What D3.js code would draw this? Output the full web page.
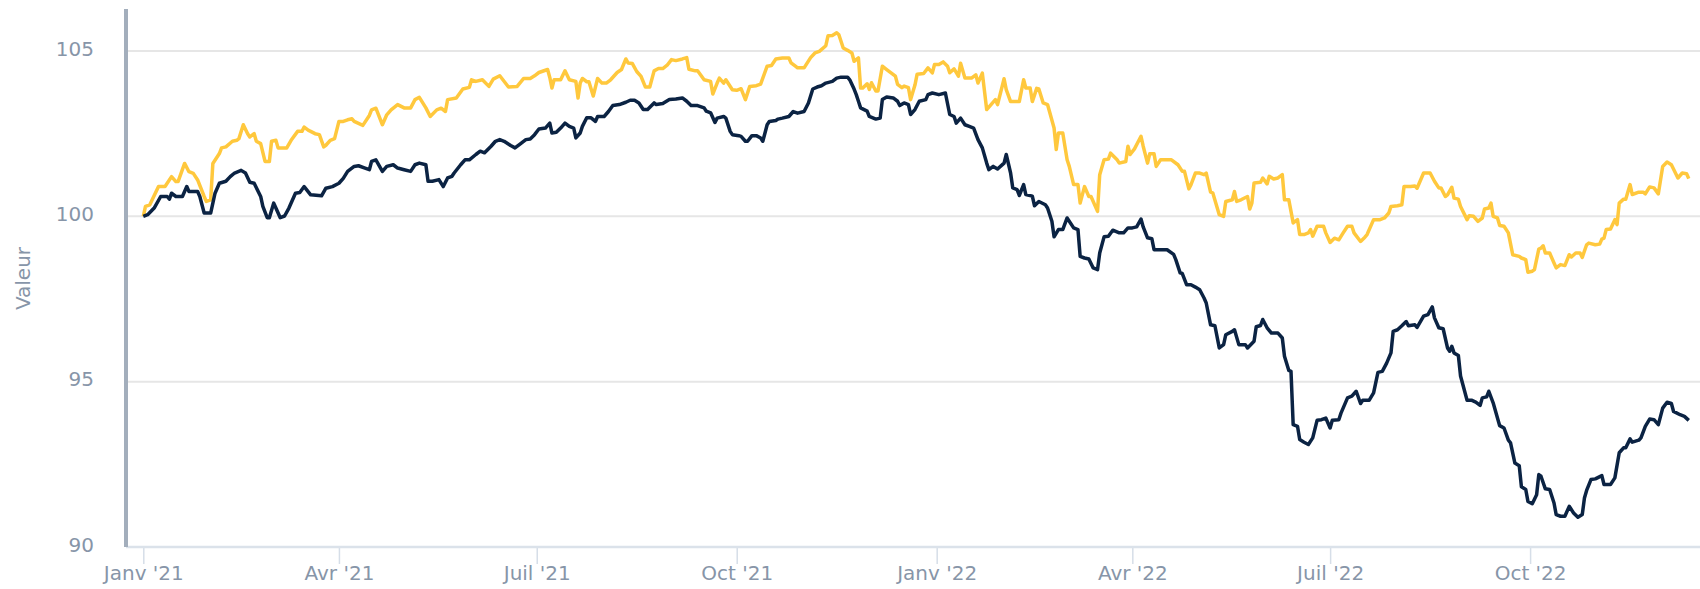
<!DOCTYPE html>
<html>
<head>
  <meta charset="utf-8">
  <script src="https://cdn.jsdelivr.net/npm/d3@7"></script>
  <style>
    body { margin: 0; background: #fff; }
    svg { display: block; font-family: "DejaVu Sans", sans-serif; }
  </style>
</head>
<body>
<script>
  // jours depuis le 1er janvier 2021, valeur
  const orSerie = [[0,100.0],[1,100.3],[3,100.35],[7,100.9],[10,100.9],[13,101.2],[15,101.05],[16,101.05],[19,101.6],[21,101.35],[23,101.3],[25,101.1],[28,100.6],[29,100.45],[31,100.5],[32,101.6],[35,101.9],[36,102.07],[38,102.1],[41,102.27],[43,102.3],[44,102.35],[46,102.77],[48,102.5],[49,102.4],[51,102.5],[52,102.27],[54,102.2],[56,101.66],[58,101.66],[59,102.27],[61,102.3],[62,102.07],[66,102.07],[68,102.3],[71,102.57],[73,102.57],[74,102.7],[76,102.6],[77,102.57],[79,102.5],[81,102.47],[83,102.1],[84,102.15],[86,102.3],[88,102.35],[90,102.87],[92,102.87],[94,102.92],[96,102.95],[97,102.87],[101,102.75],[104,103.05],[105,103.22],[107,103.27],[110,102.77],[112,103.07],[114,103.22],[117,103.38],[120,103.28],[123,103.28],[125,103.53],[127,103.6],[130,103.28],[132,103.02],[135,103.22],[137,103.27],[139,103.17],[140,103.53],[144,103.58],[147,103.85],[150,103.9],[151,104.13],[153,104.08],[156,104.13],[159,103.93],[161,104.15],[164,104.25],[168,103.91],[172,103.93],[175,104.17],[178,104.17],[180,104.25],[182,104.35],[186,104.44],[187,104.2],[188,103.88],[189,104.13],[192,104.13],[194,104.4],[196,104.13],[199,104.08],[200,103.58],[201,104.03],[202,104.17],[204,104.07],[205,104.07],[207,103.64],[209,104.17],[211,104.03],[213,104.03],[215,104.13],[218,104.35],[220,104.44],[222,104.76],[223,104.64],[225,104.62],[227,104.38],[229,104.23],[231,103.91],[233,103.91],[235,104.4],[237,104.47],[239,104.47],[241,104.57],[243,104.74],[245,104.71],[248,104.76],[250,104.8],[251,104.45],[254,104.4],[255,104.4],[258,104.13],[261,104.08],[262,103.7],[264,104.03],[265,104.18],[267,104.03],[268,104.13],[271,103.83],[273,103.81],[275,103.86],[277,103.53],[279,103.93],[282,103.95],[284,104.0],[287,104.54],[289,104.56],[291,104.76],[294,104.79],[297,104.79],[298,104.64],[300,104.54],[301,104.49],[304,104.49],[307,104.8],[309,104.94],[311,104.99],[314,105.16],[315,105.46],[317,105.47],[319,105.55],[320,105.49],[322,105.09],[324,105.02],[326,104.94],[327,104.69],[329,104.79],[330,103.88],[331,103.88],[333,104.01],[334,103.84],[335,104.04],[337,103.79],[338,103.79],[340,104.54],[342,104.44],[344,104.34],[346,104.24],[347,103.99],[349,103.89],[350,103.94],[352,103.89],[353,103.53],[355,103.97],[356,104.3],[359,104.32],[361,104.49],[363,104.34],[364,104.59],[366,104.59],[368,104.67],[370,104.54],[371,104.34],[373,104.46],[375,104.24],[376,104.63],[378,104.18],[381,104.18],[383,104.28],[384,104.03],[386,104.33],[388,103.23],[390,103.38],[392,103.53],[393,103.38],[396,104.16],[397,103.83],[399,103.47],[403,103.47],[405,104.13],[406,103.88],[408,103.88],[409,103.47],[411,103.87],[412,103.85],[414,103.43],[416,103.38],[419,102.67],[420,102.02],[421,102.52],[423,102.52],[425,101.71],[426,101.51],[428,100.96],[430,100.96],[431,100.4],[433,100.9],[435,100.6],[436,100.6],[439,100.15],[440,101.26],[442,101.71],[444,101.73],[445,101.91],[448,101.71],[449,101.61],[452,101.66],[453,102.12],[454,101.87],[456,102.04],[459,102.42],[460,102.12],[462,101.61],[463,101.89],[465,101.89],[466,101.51],[468,101.71],[473,101.71],[476,101.56],[478,101.36],[479,101.36],[481,100.83],[482,100.96],[484,101.31],[486,101.31],[488,101.26],[489,101.31],[491,100.73],[492,100.71],[495,100.05],[497,100.0],[498,100.45],[501,100.5],[502,100.75],[503,100.45],[505,100.5],[508,100.6],[509,100.22],[510,100.4],[511,101.01],[514,101.03],[515,101.16],[517,100.98],[518,101.21],[520,101.13],[522,101.16],[524,101.26],[525,100.5],[527,100.5],[529,99.8],[531,99.9],[532,99.45],[534,99.45],[536,99.5],[537,99.6],[538,99.4],[540,99.7],[543,99.7],[544,99.5],[546,99.21],[548,99.34],[550,99.29],[552,99.5],[554,99.7],[556,99.7],[557,99.5],[560,99.24],[562,99.37],[563,99.45],[566,99.9],[569,99.9],[571,99.95],[573,100.1],[574,100.3],[577,100.32],[579,100.35],[580,100.9],[583,100.9],[585,100.92],[586,100.85],[589,101.31],[592,101.31],[594,101.06],[596,100.86],[597,100.86],[599,100.6],[600,100.65],[602,100.88],[603,100.55],[605,100.52],[606,100.3],[609,99.9],[610,100.02],[612,100.0],[614,99.85],[616,99.95],[617,100.22],[619,100.25],[620,100.4],[621,100.0],[623,99.95],[624,99.72],[626,99.7],[628,99.5],[630,98.84],[633,98.79],[634,98.74],[636,98.69],[637,98.31],[639,98.34],[640,98.39],[642,99.01],[643,99.04],[644,99.11],[645,98.89],[647,98.89],[649,98.59],[650,98.44],[652,98.54],[654,98.51],[656,98.84],[657,98.77],[659,98.89],[661,98.89],[662,98.76],[664,99.14],[665,99.19],[668,99.14],[670,99.16],[671,99.31],[672,99.34],[673,99.6],[675,99.62],[677,99.9],[678,99.75],[679,100.4],[681,100.52],[682,100.52],[684,100.96],[685,100.66],[688,100.73],[690,100.73],[691,100.68],[693,100.89],[695,100.86],[697,100.68],[699,101.51],[701,101.64],[703,101.56],[706,101.16],[708,101.31],[710,101.29],[711,101.14]]

  const marineSerie = [[0,100.0],[2,100.05],[5,100.25],[8,100.6],[11,100.6],[12,100.52],[13,100.7],[15,100.6],[18,100.6],[20,100.9],[21,100.75],[25,100.75],[26,100.6],[28,100.1],[31,100.1],[33,100.7],[35,101.0],[38,101.06],[40,101.2],[42,101.31],[45,101.39],[47,101.31],[49,101.03],[51,101.0],[54,100.6],[55,100.3],[57,99.96],[58,99.96],[60,100.4],[61,100.25],[63,99.96],[65,100.01],[67,100.25],[70,100.7],[72,100.72],[74,100.9],[77,100.65],[82,100.62],[84,100.85],[87,100.9],[90,101.0],[92,101.15],[94,101.36],[97,101.51],[99,101.53],[102,101.46],[104,101.41],[105,101.66],[107,101.71],[110,101.36],[112,101.51],[115,101.56],[117,101.46],[120,101.41],[123,101.36],[125,101.56],[127,101.61],[130,101.56],[131,101.06],[133,101.06],[136,101.11],[138,100.9],[140,101.16],[142,101.21],[143,101.31],[146,101.56],[148,101.71],[150,101.71],[153,101.87],[155,101.97],[157,101.92],[160,102.12],[162,102.27],[164,102.32],[166,102.27],[169,102.14],[171,102.07],[173,102.17],[176,102.32],[178,102.34],[180,102.47],[182,102.64],[185,102.67],[187,102.82],[188,102.52],[190,102.54],[192,102.67],[194,102.82],[196,102.72],[198,102.67],[199,102.37],[201,102.52],[202,102.72],[204,102.98],[206,102.98],[208,102.87],[209,103.02],[212,103.02],[214,103.17],[216,103.35],[219,103.38],[222,103.45],[224,103.51],[226,103.51],[228,103.43],[230,103.23],[232,103.23],[235,103.43],[236,103.38],[239,103.41],[242,103.53],[245,103.55],[248,103.58],[250,103.48],[252,103.35],[255,103.35],[258,103.28],[259,103.18],[261,103.13],[263,102.84],[264,102.97],[267,103.02],[268,102.97],[270,102.57],[271,102.47],[274,102.44],[275,102.42],[277,102.27],[278,102.27],[280,102.44],[282,102.44],[284,102.37],[285,102.27],[287,102.77],[288,102.87],[291,102.9],[292,102.94],[294,102.97],[297,103.02],[299,103.17],[301,103.12],[304,103.17],[306,103.43],[308,103.85],[310,103.91],[312,103.95],[314,104.03],[317,104.08],[319,104.18],[321,104.21],[324,104.21],[325,104.13],[327,103.85],[328,103.68],[329,103.48],[330,103.28],[333,103.18],[334,103.02],[337,102.94],[339,102.97],[340,103.53],[342,103.61],[345,103.58],[347,103.48],[348,103.35],[350,103.43],[352,103.38],[353,103.08],[355,103.23],[357,103.48],[360,103.53],[361,103.68],[363,103.73],[366,103.68],[369,103.73],[371,103.08],[373,103.02],[374,102.82],[376,102.97],[378,102.77],[380,102.72],[382,102.67],[384,102.32],[386,102.07],[388,101.61],[389,101.41],[391,101.51],[393,101.43],[396,101.61],[397,101.87],[399,101.31],[400,100.86],[402,100.81],[403,100.63],[405,100.96],[406,100.66],[409,100.61],[410,100.32],[412,100.45],[415,100.35],[416,100.25],[418,99.85],[419,99.38],[421,99.6],[423,99.6],[425,99.95],[428,99.65],[430,99.6],[431,98.79],[433,98.74],[435,98.71],[437,98.44],[439,98.39],[440,98.89],[442,99.38],[444,99.4],[446,99.58],[449,99.5],[451,99.5],[453,99.65],[455,99.65],[457,99.68],[459,99.92],[460,99.68],[462,99.35],[464,99.32],[465,98.99],[468,98.99],[471,98.99],[474,98.85],[475,98.69],[477,98.29],[478,98.27],[480,97.93],[482,97.93],[484,97.86],[486,97.78],[488,97.53],[489,97.38],[491,96.72],[493,96.69],[495,96.02],[497,96.12],[498,96.42],[501,96.52],[502,96.57],[504,96.12],[507,96.12],[508,96.02],[511,96.22],[512,96.66],[514,96.7],[515,96.88],[517,96.63],[519,96.47],[522,96.47],[524,96.32],[525,95.77],[527,95.34],[528,95.31],[529,93.7],[531,93.65],[532,93.25],[534,93.17],[536,93.1],[538,93.3],[540,93.83],[542,93.85],[544,93.9],[546,93.6],[547,93.83],[550,93.85],[551,94.05],[554,94.51],[556,94.56],[558,94.71],[560,94.34],[561,94.44],[564,94.44],[566,94.66],[568,95.28],[570,95.31],[572,95.56],[574,95.87],[575,96.52],[577,96.57],[579,96.69],[581,96.82],[582,96.69],[585,96.72],[586,96.64],[589,96.98],[591,97.03],[593,97.26],[594,96.93],[596,96.63],[598,96.6],[600,96.02],[601,95.92],[602,96.07],[603,95.87],[605,95.79],[606,95.17],[609,94.44],[611,94.44],[613,94.38],[615,94.28],[616,94.51],[618,94.54],[619,94.71],[621,94.36],[624,93.67],[626,93.6],[628,93.23],[629,93.15],[631,92.54],[633,92.46],[634,91.82],[636,91.74],[637,91.38],[639,91.31],[641,91.58],[642,92.19],[643,92.14],[645,91.76],[647,91.74],[649,91.33],[650,90.98],[652,90.93],[654,90.93],[656,91.23],[658,91.03],[660,90.9],[662,90.98],[663,91.48],[664,91.71],[666,92.04],[668,92.06],[671,92.16],[672,91.89],[675,91.89],[677,92.09],[679,92.85],[681,93.0],[682,93.0],[684,93.27],[685,93.17],[688,93.23],[689,93.3],[691,93.65],[693,93.87],[695,93.85],[697,93.7],[699,94.2],[701,94.38],[703,94.34],[704,94.1],[707,94.0],[709,93.95],[711,93.83]]

  const yTicks = [90, 95, 100, 105]
  const moisFr = ["Janv", "Févr", "Mars", "Avr", "Mai", "Juin", "Juil", "Août", "Sept", "Oct", "Nov", "Déc"]

  let w = 1700
  let h = 589
  let marginLeft = 126
  let axisBottomY = 547
  let axisTopY = 10

  let start = new Date(Date.UTC(2021, 0, 1))

  let xScale = d3.scaleUtc()
    .domain([start, d3.utcDay.offset(start, 714)])
    .range([143.3, 1695.3])

  let yScale = d3.scaleLinear()
    .domain([90, 106.24])
    .range([axisBottomY, axisTopY])

  let svg = d3.select('body')
    .append('svg')
    .attr('width', w)
    .attr('height', h)

  // grille
  svg.append('g')
    .selectAll('line')
    .data(yTicks.slice(1))
    .enter()
    .append('line')
    .attr('x1', marginLeft + 2)
    .attr('x2', w)
    .attr('y1', d => yScale(d))
    .attr('y2', d => yScale(d))
    .attr('stroke', '#e6e6e6')
    .attr('stroke-width', 2)

  // axe x
  let xAxis = d3.axisBottom(xScale)
    .ticks(d3.utcMonth.every(3))
    .tickSize(17)
    .tickPadding(2)
    .tickFormat(d => moisFr[d.getUTCMonth()] + " '" + String(d.getUTCFullYear()).slice(2))

  let gx = svg.append('g')
    .attr('transform', 'translate(0,' + axisBottomY + ')')
    .call(xAxis)
  gx.select('.domain').remove()
  gx.selectAll('.tick line').attr('stroke', '#d6dee8').attr('stroke-width', 1.5)
  gx.selectAll('.tick text')
    .attr('fill', '#8795a8')
    .style('font-size', '20px')
    .style('font-family', '"DejaVu Sans", sans-serif')

  svg.append('line')
    .attr('x1', marginLeft)
    .attr('x2', w)
    .attr('y1', axisBottomY)
    .attr('y2', axisBottomY)
    .attr('stroke', '#dbe2ea')
    .attr('stroke-width', 2.5)

  // axe y
  svg.append('g')
    .selectAll('text')
    .data(yTicks)
    .enter()
    .append('text')
    .attr('x', 94)
    .attr('y', d => yScale(d) + 4.5)
    .attr('text-anchor', 'end')
    .attr('fill', '#8795a8')
    .style('font-size', '20px')
    .text(d => d)

  svg.append('line')
    .attr('x1', marginLeft)
    .attr('x2', marginLeft)
    .attr('y1', 9)
    .attr('y2', axisBottomY)
    .attr('stroke', '#a3aebc')
    .attr('stroke-width', 4)

  svg.append('text')
    .attr('transform', 'translate(30,' + ((axisTopY + axisBottomY) / 2) + ') rotate(-90)')
    .attr('text-anchor', 'middle')
    .attr('fill', '#8795a8')
    .style('font-size', '20px')
    .text('Valeur')

  // courbes
  let line = d3.line()
    .x(d => xScale(d3.utcDay.offset(start, d[0])))
    .y(d => yScale(d[1]))

  svg.append('path')
    .datum(orSerie)
    .attr('d', line)
    .attr('fill', 'none')
    .attr('stroke', '#ffc83d')
    .attr('stroke-width', 3.5)
    .attr('stroke-linejoin', 'round')

  svg.append('path')
    .datum(marineSerie)
    .attr('d', line)
    .attr('fill', 'none')
    .attr('stroke', '#0b2343')
    .attr('stroke-width', 3.5)
    .attr('stroke-linejoin', 'round')
</script>
</body>
</html>
